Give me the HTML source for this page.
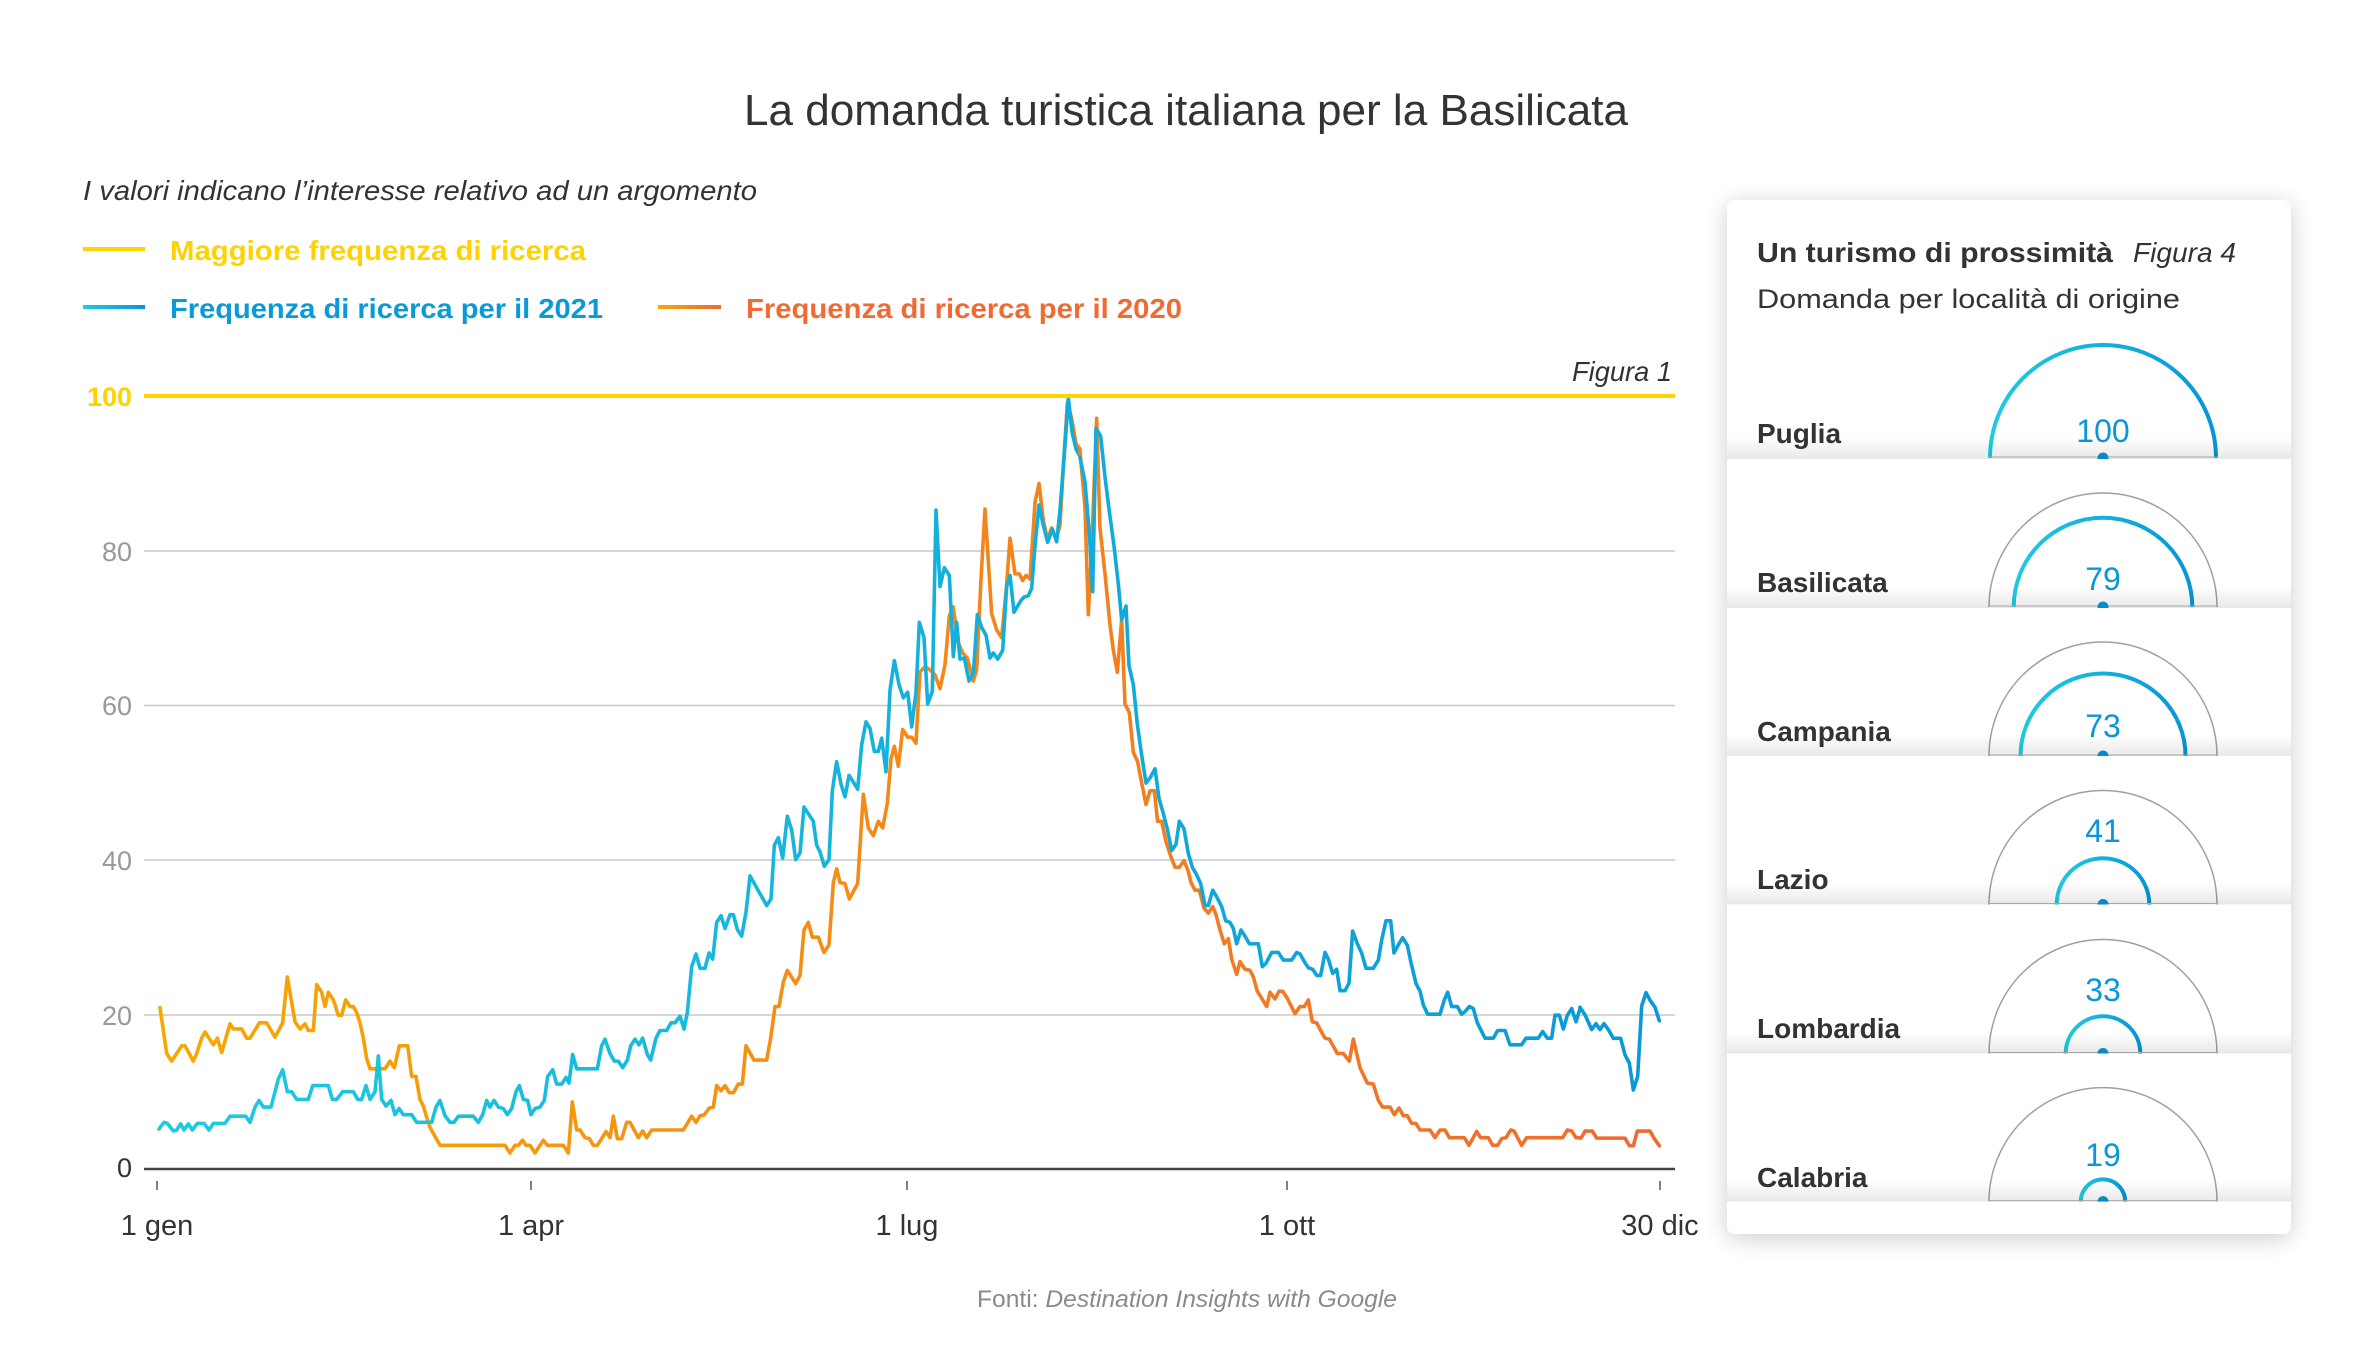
<!DOCTYPE html>
<html><head><meta charset="utf-8">
<style>
html,body{margin:0;padding:0;background:#fff;}
svg{display:block;font-family:"Liberation Sans",sans-serif;}
</style></head><body>
<svg width="2375" height="1355" viewBox="0 0 2375 1355" xmlns="http://www.w3.org/2000/svg">
<defs>
  <linearGradient id="lgBlue" x1="0" y1="0" x2="1" y2="0"><stop offset="0" stop-color="#1fcbe0"/><stop offset="1" stop-color="#0895d8"/></linearGradient>
  <linearGradient id="lgOr" x1="0" y1="0" x2="1" y2="0"><stop offset="0" stop-color="#f7a800"/><stop offset="1" stop-color="#ee6a32"/></linearGradient>
  <linearGradient id="bA" gradientUnits="userSpaceOnUse" x1="291" y1="0" x2="4818" y2="0"><stop offset="0" stop-color="#1ecbe0"/><stop offset="1" stop-color="#0a98d6"/></linearGradient>
  <linearGradient id="bB" gradientUnits="userSpaceOnUse" x1="-1209" y1="0" x2="3318" y2="0"><stop offset="0" stop-color="#1ecbe0"/><stop offset="1" stop-color="#0a98d6"/></linearGradient>
  <linearGradient id="bC" gradientUnits="userSpaceOnUse" x1="-2709" y1="0" x2="1818" y2="0"><stop offset="0" stop-color="#1ecbe0"/><stop offset="1" stop-color="#0a98d6"/></linearGradient>
  <linearGradient id="bD" gradientUnits="userSpaceOnUse" x1="-3729" y1="0" x2="798" y2="0"><stop offset="0" stop-color="#1ecbe0"/><stop offset="1" stop-color="#0a98d6"/></linearGradient>
  <linearGradient id="oA" gradientUnits="userSpaceOnUse" x1="291" y1="0" x2="4818" y2="0"><stop offset="0" stop-color="#f8a800"/><stop offset="1" stop-color="#ee6a32"/></linearGradient>
  <linearGradient id="oB" gradientUnits="userSpaceOnUse" x1="-1209" y1="0" x2="3318" y2="0"><stop offset="0" stop-color="#f8a800"/><stop offset="1" stop-color="#ee6a32"/></linearGradient>
  <linearGradient id="oC" gradientUnits="userSpaceOnUse" x1="-2709" y1="0" x2="1818" y2="0"><stop offset="0" stop-color="#f8a800"/><stop offset="1" stop-color="#ee6a32"/></linearGradient>
  <linearGradient id="oD" gradientUnits="userSpaceOnUse" x1="-3729" y1="0" x2="798" y2="0"><stop offset="0" stop-color="#f8a800"/><stop offset="1" stop-color="#ee6a32"/></linearGradient>
  <linearGradient id="shade" x1="0" y1="0" x2="0" y2="1"><stop offset="0" stop-color="#000" stop-opacity="0"/><stop offset="1" stop-color="#000" stop-opacity="0.09"/></linearGradient>
  <filter id="blur" x="-10%" y="-10%" width="120%" height="120%"><feGaussianBlur stdDeviation="12"/></filter>
</defs>

<rect width="2375" height="1355" fill="#fff"/>

<!-- Title -->
<text x="744" y="125" font-size="44" fill="#333" textLength="884" lengthAdjust="spacingAndGlyphs">La domanda turistica italiana per la Basilicata</text>

<!-- Subtitle & legend -->
<text x="83" y="200" font-size="28" font-style="italic" fill="#333" textLength="674" lengthAdjust="spacingAndGlyphs">I valori indicano l’interesse relativo ad un argomento</text>
<line x1="83" y1="249" x2="145" y2="249" stroke="#ffd400" stroke-width="4"/>
<text x="170" y="260" font-size="28" font-weight="bold" fill="#ffd200" textLength="416" lengthAdjust="spacingAndGlyphs">Maggiore frequenza di ricerca</text>
<rect x="83" y="305" width="62" height="4" fill="url(#lgBlue)"/>
<text x="170" y="318" font-size="28" font-weight="bold" fill="#0a9ad8" textLength="433" lengthAdjust="spacingAndGlyphs">Frequenza di ricerca per il 2021</text>
<rect x="658" y="305" width="63" height="4" fill="url(#lgOr)"/>
<text x="746" y="318" font-size="28" font-weight="bold" fill="#ef6b33" textLength="436" lengthAdjust="spacingAndGlyphs">Frequenza di ricerca per il 2020</text>

<text x="1672" y="381" font-size="28" font-style="italic" fill="#333" text-anchor="end" textLength="100" lengthAdjust="spacingAndGlyphs">Figura 1</text>

<!-- Grid -->
<g stroke="#c8c8c8" stroke-width="1.5">
  <line x1="144" y1="551" x2="1675" y2="551"/>
  <line x1="144" y1="705.5" x2="1675" y2="705.5"/>
  <line x1="144" y1="860" x2="1675" y2="860"/>
  <line x1="144" y1="1015" x2="1675" y2="1015"/>
</g>
<line x1="144" y1="1169" x2="1675" y2="1169" stroke="#444" stroke-width="2.5"/>

<!-- Y labels -->
<g font-size="27" text-anchor="end">
  <text x="132" y="406" fill="#ffd200" font-weight="bold">100</text>
  <text x="132" y="561" fill="#999">80</text>
  <text x="132" y="715" fill="#999">60</text>
  <text x="132" y="870" fill="#999">40</text>
  <text x="132" y="1025" fill="#999">20</text>
  <text x="132" y="1177" fill="#333">0</text>
</g>

<!-- Ticks & X labels -->
<g stroke="#555" stroke-width="1.5">
  <line x1="157" y1="1181" x2="157" y2="1190"/>
  <line x1="531" y1="1181" x2="531" y2="1190"/>
  <line x1="907" y1="1181" x2="907" y2="1190"/>
  <line x1="1287" y1="1181" x2="1287" y2="1190"/>
  <line x1="1660" y1="1181" x2="1660" y2="1190"/>
</g>
<g font-size="29" fill="#333" text-anchor="middle">
  <text x="157" y="1235">1 gen</text>
  <text x="531" y="1235">1 apr</text>
  <text x="907" y="1235">1 lug</text>
  <text x="1287" y="1235">1 ott</text>
  <text x="1660" y="1235">30 dic</text>
</g>

<text x="977" y="1307" font-size="24" fill="#8a8a8a" textLength="420" lengthAdjust="spacingAndGlyphs">Fonti: <tspan font-style="italic">Destination Insights with Google</tspan></text>

<!-- Series -->
<g fill="none" stroke-width="3.6" stroke-linejoin="round" stroke-linecap="round">
<g transform="translate(60,380) scale(0.333333,0.510204)">
<polyline vector-effect="non-scaling-stroke" stroke="url(#oA)" points="300,1230 320,1320 335,1335 365,1305 375,1305 400,1335 410,1320 425,1290 435,1278 460,1303 472,1290 485,1318 510,1262 520,1272 545,1272 560,1290 570,1290 598,1260 620,1260 645,1288 668,1260 682,1170 705,1258 720,1272 735,1262 745,1275 760,1275 770,1185 785,1200 795,1228 805,1200 820,1215 835,1245 845,1245 857,1215 870,1228 880,1228 890,1240 900,1260 910,1290 920,1330 930,1350 975,1350 990,1335 1003,1348 1018,1305 1043,1305 1055,1365 1068,1365 1080,1410 1090,1423 1100,1445 1110,1465 1140,1500 1335,1500 1350,1515 1365,1500 1375,1500 1388,1490 1398,1500 1410,1500 1425,1515 1450,1490 1462,1500 1510,1500 1525,1515 1537,1415 1550,1470 1560,1470"/>
<polyline vector-effect="non-scaling-stroke" stroke="url(#bA)" points="297,1468 312,1455 322,1457 340,1472 350,1470 362,1458 372,1470 385,1458 397,1470 412,1457 432,1457 447,1470 460,1457 495,1457 510,1443 557,1443 570,1455 585,1425 597,1412 610,1425 633,1425 655,1370 668,1352 682,1395 695,1395 710,1410 745,1410 758,1383 805,1383 817,1410 830,1410 848,1395 880,1395 893,1410 905,1410 918,1383 930,1410 945,1395 955,1325 965,1410 978,1423 993,1412 1005,1440 1017,1428 1030,1440 1055,1440 1070,1455 1115,1455 1128,1425 1140,1412 1155,1442 1170,1455 1182,1455 1195,1443 1240,1443 1255,1455 1268,1440 1280,1412 1290,1425 1302,1412 1315,1425 1330,1428 1342,1440 1355,1428 1368,1395 1378,1383 1390,1410 1403,1412 1413,1440 1425,1428 1440,1425 1453,1412 1463,1365 1478,1352 1490,1380 1505,1380 1518,1367 1527,1378 1538,1322 1550,1350 1560,1350"/>
</g>
<g transform="translate(560,380) scale(0.333333,0.510204)">
<polyline vector-effect="non-scaling-stroke" stroke="url(#oB)" points="60,1470 75,1485 88,1487 100,1500 112,1500 125,1487 138,1473 150,1485 160,1443 172,1487 185,1487 200,1455 210,1455 235,1485 248,1472 260,1485 275,1470 370,1470 395,1443 408,1455 420,1442 433,1440 448,1427 460,1425 470,1383 483,1393 495,1383 508,1397 520,1397 535,1380 547,1380 558,1305 582,1333 620,1333 632,1290 645,1228 657,1228 670,1180 682,1157 707,1183 720,1167 732,1078 745,1063 757,1092 775,1092 792,1122 807,1107 820,985 830,958 840,985 855,987 868,1017 893,987 910,812 925,878 940,893 955,865 968,878 982,830 993,742 1003,718 1015,757 1028,685 1043,700 1055,700 1068,712 1080,572 1095,562 1108,567 1125,578 1140,605 1155,558 1168,462 1180,445 1193,512 1208,535 1222,545 1240,590 1250,568 1263,390 1275,253 1295,458 1310,490 1325,505 1340,400 1350,310 1365,380 1378,380 1388,393 1398,383 1410,390 1425,240 1437,203 1450,275 1462,312 1475,290 1488,312 1500,285 1510,170 1522,45 1535,75 1548,125 1560,135"/>
<polyline vector-effect="non-scaling-stroke" stroke="url(#bB)" points="60,1350 112,1350 125,1305 135,1292 150,1320 163,1335 175,1335 188,1348 202,1333 212,1305 225,1292 237,1303 248,1290 262,1322 272,1333 288,1290 300,1275 320,1275 333,1260 345,1260 360,1247 372,1272 382,1240 395,1150 408,1125 420,1153 435,1153 447,1123 458,1135 470,1063 483,1050 495,1075 510,1048 520,1048 532,1077 545,1090 558,1043 570,972 620,1030 633,1017 643,912 655,897 668,937 682,855 695,882 707,940 720,927 732,837 745,850 760,865 770,912 780,925 793,953 807,940 817,805 830,748 843,792 855,817 867,775 880,788 893,802 905,715 918,670 930,683 943,728 955,728 965,702 978,768 990,608 1003,550 1017,597 1030,623 1043,612 1055,680 1068,612 1078,475 1092,505 1103,635 1117,610 1128,255 1140,405 1153,368 1168,383 1180,542 1190,475 1200,547 1213,545 1227,590 1240,575 1252,460 1265,485 1278,500 1290,545 1300,535 1313,547 1328,530 1340,405 1350,383 1362,455 1383,432 1393,425 1405,423 1415,408 1425,325 1437,245 1450,285 1463,318 1477,292 1490,317 1500,255 1510,170 1525,37 1537,105 1548,135 1560,150"/>
</g>
<g transform="translate(1060,380) scale(0.333333,0.510204)">
<polyline vector-effect="non-scaling-stroke" stroke="url(#oC)" points="60,140 75,250 85,460 95,330 110,75 120,290 135,380 150,480 160,530 172,573 185,470 195,635 208,652 220,730 233,748 245,790 258,832 270,805 283,805 293,865 305,865 318,905 332,933 345,955 358,955 372,942 385,963 393,985 405,1000 418,1000 432,1035 445,1045 458,1032 468,1048 480,1078 493,1105 505,1095 515,1135 530,1165 540,1140 555,1155 570,1157 580,1170 592,1198 620,1228 630,1200 645,1213 657,1198 668,1198 682,1212 705,1242 720,1228 733,1228 745,1215 757,1258 770,1260 782,1275 795,1290 808,1292 822,1308 832,1320 850,1320 868,1335 880,1292 900,1348 922,1378 940,1380 955,1412 968,1425 990,1425 1003,1440 1017,1427 1030,1442 1042,1442 1055,1457 1068,1457 1080,1470 1110,1470 1125,1485 1140,1470 1155,1470 1168,1485 1213,1485 1227,1500 1250,1473 1262,1485 1285,1485 1298,1500 1313,1500 1325,1487 1338,1485 1352,1470 1362,1472 1385,1500 1400,1485 1508,1485 1522,1470 1535,1472 1548,1485 1560,1485"/>
<polyline vector-effect="non-scaling-stroke" stroke="url(#bC)" points="60,152 75,200 88,300 98,415 108,95 122,110 135,190 148,258 162,325 175,400 185,470 198,443 207,560 220,597 232,675 245,735 258,790 270,780 285,762 297,820 310,850 322,880 335,922 348,910 358,865 372,880 385,928 397,955 410,970 422,987 435,1030 445,1030 458,1000 470,1013 485,1032 497,1060 510,1063 520,1075 530,1105 543,1078 555,1090 568,1105 595,1105 607,1150 618,1143 635,1122 655,1122 670,1137 695,1137 710,1122 720,1125 733,1140 745,1152 758,1155 770,1167 782,1167 795,1122 805,1135 818,1163 830,1155 840,1197 855,1197 867,1182 878,1080 892,1105 905,1123 918,1153 940,1153 955,1137 965,1098 978,1060 992,1060 1002,1123 1015,1107 1028,1093 1042,1108 1053,1142 1068,1183 1080,1198 1090,1225 1103,1243 1140,1243 1153,1215 1163,1200 1175,1228 1192,1228 1205,1243 1215,1238 1228,1228 1240,1232 1252,1260 1275,1290 1300,1290 1313,1275 1335,1275 1350,1303 1385,1303 1398,1290 1435,1290 1448,1277 1462,1290 1475,1290 1485,1245 1498,1245 1510,1272 1522,1245 1535,1232 1548,1258 1560,1232"/>
</g>
<g transform="translate(1400,340) scale(0.333333,0.586854)">
<polyline vector-effect="non-scaling-stroke" stroke="url(#oD)" points="540,1360 543,1360 555,1348 577,1348 590,1360 675,1360 688,1373 700,1373 712,1348 750,1348 762,1360 778,1373"/>
<polyline vector-effect="non-scaling-stroke" stroke="url(#bD)" points="540,1137 555,1150 575,1175 588,1165 600,1175 612,1165 625,1175 640,1190 662,1190 675,1218 688,1232 700,1278 713,1255 725,1135 738,1112 750,1125 765,1137 778,1160"/>
</g>
</g>

<!-- 100 line on top -->
<line x1="144" y1="396" x2="1675" y2="396" stroke="#ffd500" stroke-width="4"/>
<polyline fill="none" stroke="url(#bB)" stroke-width="3.6" vector-effect="non-scaling-stroke" transform="translate(560,380) scale(0.333333,0.510204)" points="1510,170 1525,37 1537,105"/>

<!-- Card -->
<rect x="1727" y="204" width="564" height="1034" rx="8" fill="#000" opacity="0.2" filter="url(#blur)"/>
<rect x="1727" y="200" width="564" height="1034" rx="8" fill="#fff"/>
<text x="1757" y="262" font-size="28" font-weight="bold" fill="#333" textLength="356" lengthAdjust="spacingAndGlyphs">Un turismo di prossimità</text>
<text x="2133" y="262" font-size="28" font-style="italic" fill="#333" textLength="103" lengthAdjust="spacingAndGlyphs">Figura 4</text>
<text x="1757" y="308" font-size="27" fill="#333" textLength="423" lengthAdjust="spacingAndGlyphs">Domanda per località di origine</text>

<!-- Puglia -->
<g>
  <text x="1757" y="443" font-size="28" font-weight="bold" fill="#333">Puglia</text>
  <path d="M1990,458 A113,113 0 0 1 2216,458" fill="none" stroke="url(#lgBlue)" stroke-width="4"/>
  <line x1="1988" y1="457" x2="2218" y2="457" stroke="#b5b5b5" stroke-width="1"/>
  <circle cx="2103" cy="458" r="5.5" fill="#0a96d8"/>
  <text x="2103" y="442" font-size="32" fill="#0a96d8" text-anchor="middle">100</text>
</g>
<rect x="1727" y="437" width="564" height="22" fill="url(#shade)"/>
<rect x="1727" y="459" width="564" height="775" rx="8" fill="#fff"/>

<!-- Basilicata -->
<g>
  <text x="1757" y="592" font-size="28" font-weight="bold" fill="#333">Basilicata</text>
  <path d="M1989,607 A114,114 0 0 1 2217,607" fill="none" stroke="#a0a0a0" stroke-width="1.5"/>
  <path d="M2013.7,607 A89.3,89.3 0 0 1 2192.3,607" fill="none" stroke="url(#lgBlue)" stroke-width="4"/>
  <line x1="1988" y1="606" x2="2218" y2="606" stroke="#b5b5b5" stroke-width="1"/>
  <circle cx="2103" cy="607" r="5.5" fill="#0a96d8"/>
  <text x="2103" y="590" font-size="32" fill="#0a96d8" text-anchor="middle">79</text>
</g>
<rect x="1727" y="586" width="564" height="22" fill="url(#shade)"/>
<rect x="1727" y="608" width="564" height="626" rx="8" fill="#fff"/>

<!-- Campania -->
<g>
  <text x="1757" y="741" font-size="28" font-weight="bold" fill="#333">Campania</text>
  <path d="M1989,756 A114,114 0 0 1 2217,756" fill="none" stroke="#a0a0a0" stroke-width="1.5"/>
  <path d="M2020.5,756 A82.5,82.5 0 0 1 2185.5,756" fill="none" stroke="url(#lgBlue)" stroke-width="4"/>
  <line x1="1988" y1="755" x2="2218" y2="755" stroke="#b5b5b5" stroke-width="1"/>
  <circle cx="2103" cy="756" r="5.5" fill="#0a96d8"/>
  <text x="2103" y="737" font-size="32" fill="#0a96d8" text-anchor="middle">73</text>
</g>
<rect x="1727" y="734" width="564" height="22" fill="url(#shade)"/>
<rect x="1727" y="756" width="564" height="478" rx="8" fill="#fff"/>

<!-- Lazio -->
<g>
  <text x="1757" y="889" font-size="28" font-weight="bold" fill="#333">Lazio</text>
  <path d="M1989,904.5 A114,114 0 0 1 2217,904.5" fill="none" stroke="#a0a0a0" stroke-width="1.5"/>
  <path d="M2056.7,904.5 A46.3,46.3 0 0 1 2149.3,904.5" fill="none" stroke="url(#lgBlue)" stroke-width="4"/>
  <line x1="1988" y1="903.5" x2="2218" y2="903.5" stroke="#b5b5b5" stroke-width="1"/>
  <circle cx="2103" cy="904.5" r="5.5" fill="#0a96d8"/>
  <text x="2103" y="842" font-size="32" fill="#0a96d8" text-anchor="middle">41</text>
</g>
<rect x="1727" y="882.5" width="564" height="22" fill="url(#shade)"/>
<rect x="1727" y="904.5" width="564" height="329.5" rx="8" fill="#fff"/>

<!-- Lombardia -->
<g>
  <text x="1757" y="1038" font-size="28" font-weight="bold" fill="#333">Lombardia</text>
  <path d="M1989,1053.5 A114,114 0 0 1 2217,1053.5" fill="none" stroke="#a0a0a0" stroke-width="1.5"/>
  <path d="M2065.7,1053.5 A37.3,37.3 0 0 1 2140.3,1053.5" fill="none" stroke="url(#lgBlue)" stroke-width="4"/>
  <line x1="1988" y1="1052.5" x2="2218" y2="1052.5" stroke="#b5b5b5" stroke-width="1"/>
  <circle cx="2103" cy="1053.5" r="5.5" fill="#0a96d8"/>
  <text x="2103" y="1001" font-size="32" fill="#0a96d8" text-anchor="middle">33</text>
</g>
<rect x="1727" y="1031.5" width="564" height="22" fill="url(#shade)"/>
<rect x="1727" y="1053.5" width="564" height="180.5" rx="8" fill="#fff"/>

<!-- Calabria -->
<g>
  <text x="1757" y="1187" font-size="28" font-weight="bold" fill="#333">Calabria</text>
  <path d="M1989,1201.6 A114,114 0 0 1 2217,1201.6" fill="none" stroke="#a0a0a0" stroke-width="1.5"/>
  <path d="M2080.8,1201.6 A22.2,22.2 0 0 1 2125.2,1201.6" fill="none" stroke="url(#lgBlue)" stroke-width="4"/>
  <line x1="1988" y1="1200.6" x2="2218" y2="1200.6" stroke="#b5b5b5" stroke-width="1"/>
  <circle cx="2103" cy="1201.6" r="5.5" fill="#0a96d8"/>
  <text x="2103" y="1166" font-size="32" fill="#0a96d8" text-anchor="middle">19</text>
</g>
<rect x="1727" y="1179.6" width="564" height="22" fill="url(#shade)"/>
<rect x="1727" y="1201.6" width="564" height="32.4" rx="8" fill="#fff"/>

</svg>
</body></html>
